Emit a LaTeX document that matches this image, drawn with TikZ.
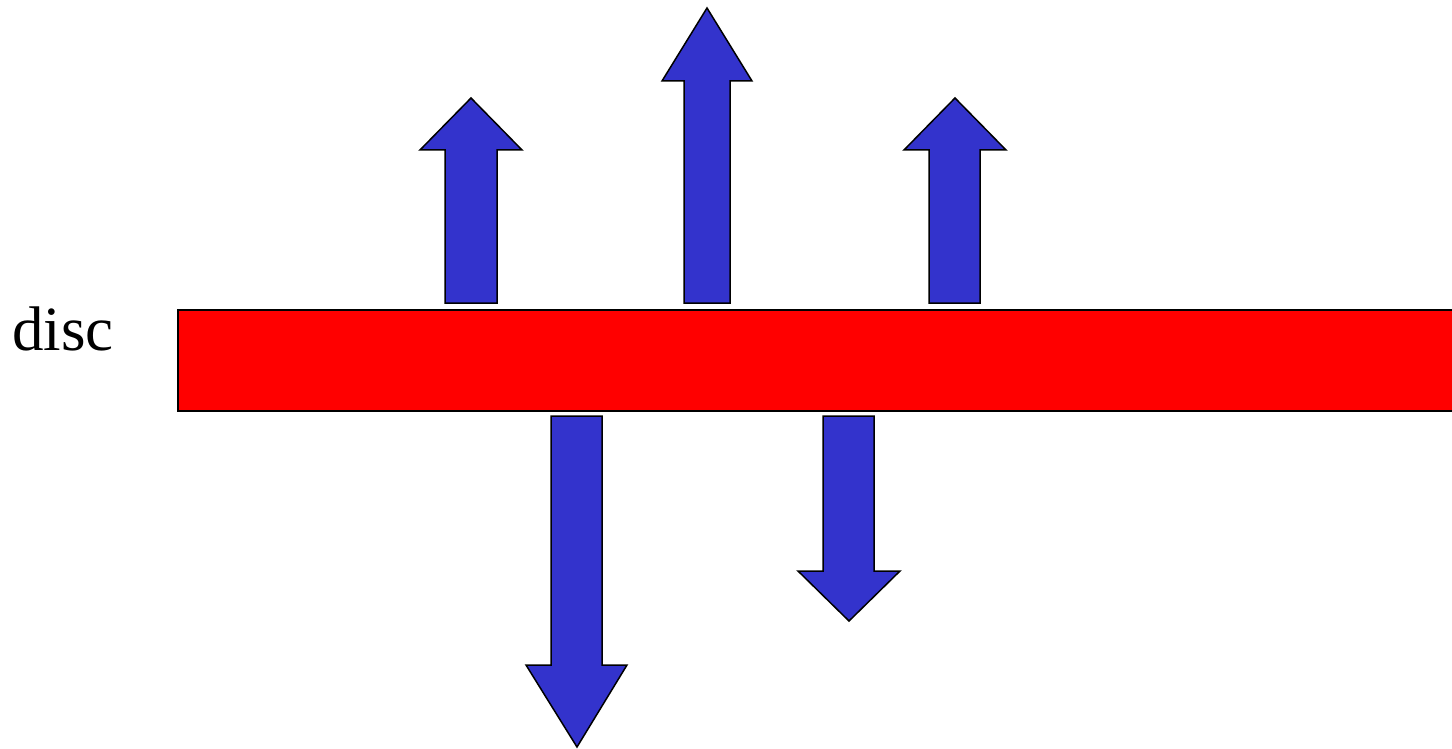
\documentclass[tikz,border=0pt]{standalone}
\usepackage{fontspec}
\setmainfont{Liberation Serif}
\definecolor{arrowblue}{HTML}{3333CC}
\definecolor{discred}{HTML}{FF0000}
\tikzset{
  blockarrow/.style={fill=arrowblue, draw=black, line width=1.5pt, line join=miter},
  discbox/.style={fill=discred, draw=black, line width=1.5pt},
  label/.style={font=\fontsize{63}{70}\selectfont, inner sep=0pt, anchor=base west}
}
\begin{document}
\begin{tikzpicture}[x=1pt, y=-1pt]
\useasboundingbox (0,0) rectangle (1452,749);
% disc
\draw[discbox] (178,310) rectangle (1460,411);
\node[label] (disclabel) at (12,350) {disc};
% upward arrows
\draw[blockarrow] (445,303) -- (445,150) -- (420,150) -- (471,98) -- (522,150) -- (497,150) -- (497,303) -- cycle;
\draw[blockarrow] (684,303) -- (684,81) -- (662,81) -- (707,8) -- (752,81) -- (730,81) -- (730,303) -- cycle;
\draw[blockarrow] (929,303) -- (929,150) -- (904,150) -- (955,98) -- (1006,150) -- (980,150) -- (980,303) -- cycle;
% downward arrows
\draw[blockarrow] (551,416) -- (551,665) -- (526,665) -- (577,747) -- (627,665) -- (602,665) -- (602,416) -- cycle;
\draw[blockarrow] (823,416) -- (823,571) -- (798,571) -- (849,621) -- (900,571) -- (874,571) -- (874,416) -- cycle;
\end{tikzpicture}
\end{document}
